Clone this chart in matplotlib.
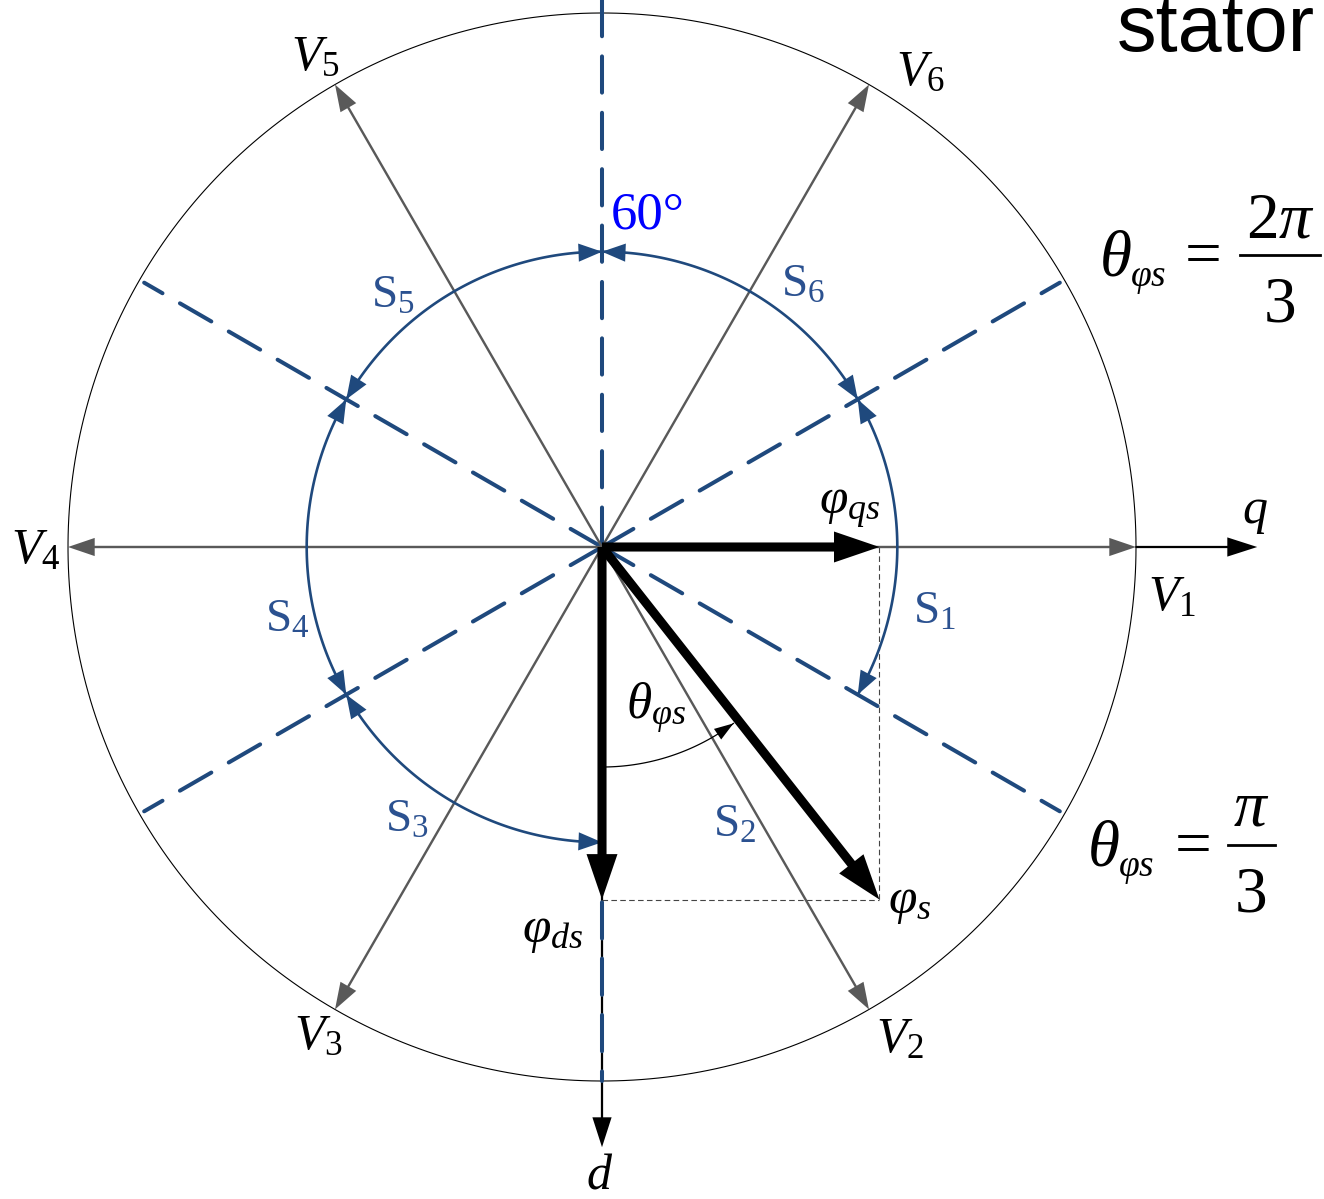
import numpy as np
import matplotlib.pyplot as plt

plt.rcParams['font.family'] = ['Liberation Serif', 'DejaVu Serif']
plt.rcParams['mathtext.fontset'] = 'custom'
plt.rcParams['mathtext.rm'] = 'Liberation Serif'
plt.rcParams['mathtext.it'] = 'Liberation Serif:italic'

# ---- data ----
v_names = ['1', '2', '3', '4', '5', '6']
v_angles = [0, -60, -120, 180, 120, 60]
r_outer = 1.0
border_angles = [30, 150, 210, 330]          # dashed sector borders (plus vertical one)
sector_names = ['1', '6', '5', '4', '3']      # S2 has no arc
sector_arcs = [(30, -30), (90, 30), (150, 90), (210, 150), (270, 210)]
r_sector = 0.553
phi_s_mag = 0.84
theta_phis = 38.2                             # deg, measured from d axis

BLUE = '#1F497D'
SBLUE = '#2B5190'
GRAY = '#595959'

# pixel -> data helper for label placement
def P(x, y):
    return (x - 602) / 534, (547 - y) / 534

fig = plt.figure(figsize=(13.24, 11.99), dpi=100)
ax = fig.add_axes([0, 0, 1, 1])
ax.set_xlim(-602 / 534, (1324 - 602) / 534)
ax.set_ylim(-(1199 - 547) / 534, 547 / 534)
ax.set_aspect('equal')
ax.axis('off')

# outer circle
t = np.linspace(0, 2 * np.pi, 400)
ax.plot(r_outer * np.cos(t), r_outer * np.sin(t), color='black', lw=0.8, zorder=1)

# d axis (down) and q axis (right)
ax.arrow(0, 0, 0, -1.124, width=0.0042, head_width=0.036, head_length=0.056,
         length_includes_head=True, color='black', lw=0, zorder=1)
ax.arrow(r_outer, 0, 0.227, 0, width=0.0042, head_width=0.036, head_length=0.056,
         length_includes_head=True, color='black', lw=0, zorder=1)

# dashed sector borders
for a in border_angles:
    ar = np.radians(a)
    ax.plot([0, 0.99 * np.cos(ar)], [0, 0.99 * np.sin(ar)], color=BLUE, lw=2.9,
            dashes=(9, 5), dash_capstyle='round', zorder=2)
ax.plot([0, 0], [547 / 534, -1.0], color=BLUE, lw=2.9, dashes=(9, 5),
        dash_capstyle='round', zorder=2)

# voltage vectors
for n, a in zip(v_names, v_angles):
    ar = np.radians(a)
    ax.arrow(0, 0, r_outer * np.cos(ar), r_outer * np.sin(ar), width=0.0045,
             head_width=0.034, head_length=0.05, length_includes_head=True,
             color=GRAY, lw=0, zorder=3)

# sector arcs with arrowheads at both ends
def arc_arrow(a0, a1, r, color, lw, hl, hw, both=True, z=3):
    th = np.radians(np.linspace(a0, a1, 100))
    ax.plot(r * np.cos(th), r * np.sin(th), color=color, lw=lw, zorder=z)
    d = np.degrees(hl / r)
    ends = [(a1, a1 - np.sign(a1 - a0) * d)]
    if both:
        ends.append((a0, a0 + np.sign(a1 - a0) * d))
    for tip, start in ends:
        tr, sr = np.radians(tip), np.radians(start)
        x0, y0 = r * np.cos(sr), r * np.sin(sr)
        x1, y1 = r * np.cos(tr), r * np.sin(tr)
        ax.arrow(x0, y0, x1 - x0, y1 - y0, width=0, head_width=hw, head_length=hl,
                 length_includes_head=True, color=color, lw=0, zorder=z)

for a0, a1 in sector_arcs:
    arc_arrow(a0, a1, r_sector, BLUE, 1.9, 0.044, 0.034)

# flux vector and components
ang = np.radians(-90 + theta_phis)
qs = phi_s_mag * np.sin(np.radians(theta_phis))
ds = phi_s_mag * np.cos(np.radians(theta_phis))
ax.plot([qs, qs], [0, -ds], color='#444444', lw=0.8, dashes=(5, 3), zorder=2)
ax.plot([0, qs], [-ds, -ds], color='#444444', lw=0.8, dashes=(5, 3), zorder=2)
for dx, dy in [(phi_s_mag * np.cos(ang), phi_s_mag * np.sin(ang)), (qs, 0), (0, -ds)]:
    ax.arrow(0, 0, dx, dy, width=0.017, head_width=0.058, head_length=0.085,
             length_includes_head=True, color='black', lw=0, zorder=5)

# theta arc
arc_arrow(-90, -90 + theta_phis - 1.5, 0.412, 'black', 0.9, 0.036, 0.024, both=False, z=4)

# ---- text ----
v_pos = {'1': (1172, 598), '2': (900, 1040), '3': (318, 1037),
         '4': (36, 551), '5': (315, 58), '6': (920, 73)}
for n in v_names:
    ax.text(*P(*v_pos[n]), r'$V_{%s}$' % n, fontsize=36, ha='center', va='center')

s_pos = {'1': (935, 612), '2': (735, 825), '3': (407, 820),
         '4': (287, 620), '5': (393, 296), '6': (803, 285)}
for n, p in s_pos.items():
    ax.text(*P(*p), r'$\mathrm{S}_{%s}$' % n, fontsize=34, ha='center', va='center',
            color=SBLUE)

ax.text(*P(648, 215), '60°', fontsize=38, ha='center', va='center', color='#0000FF')
ax.text(*P(1255, 513), r'$q$', fontsize=36, ha='center', va='center')
ax.text(*P(600, 1176), r'$d$', fontsize=36, ha='center', va='center')
ax.text(*P(850, 508), r'$\varphi_{qs}$', fontsize=37, ha='center', va='center')
ax.text(*P(553, 932), r'$\varphi_{ds}$', fontsize=37, ha='center', va='center')
ax.text(*P(910, 903), r'$\varphi_{s}$', fontsize=37, ha='center', va='center')
ax.text(*P(656, 708), r'$\theta_{\varphi s}$', fontsize=37, ha='center', va='center')


# theta = fraction, typeset piece by piece
def equation(x_theta, base, x_eq, num, x_frac0, x_frac1, y_bar, num_base, den_base):
    ax.text(*P(x_theta, base), r'$\theta$', fontsize=47, ha='left', va='baseline')
    ax.text(*P(x_theta + 31, base + 11), r'$\varphi s$', fontsize=27, ha='left',
            va='baseline')
    ax.text(*P(x_eq, base), '=', fontsize=47, ha='center', va='baseline')
    xc = (x_frac0 + x_frac1) / 2
    ax.text(*P(xc, num_base), num, fontsize=47, ha='center', va='baseline')
    ax.text(*P(xc, den_base), '3', fontsize=47, ha='center', va='baseline')
    (bx0, by), (bx1, _) = P(x_frac0, y_bar), P(x_frac1, y_bar)
    ax.plot([bx0, bx1], [by, by], color='black', lw=2.0)


equation(1099, 275, 1203, r'$2\pi$', 1240, 1320, 255, 238, 322)
equation(1087, 865, 1193, r'$\pi$', 1228, 1275, 845, 826, 912)

ax.text(*P(1117, 51), 'stator', fontsize=57, ha='left', va='baseline',
        family='Liberation Sans')

fig.savefig('out.png', dpi=100)
